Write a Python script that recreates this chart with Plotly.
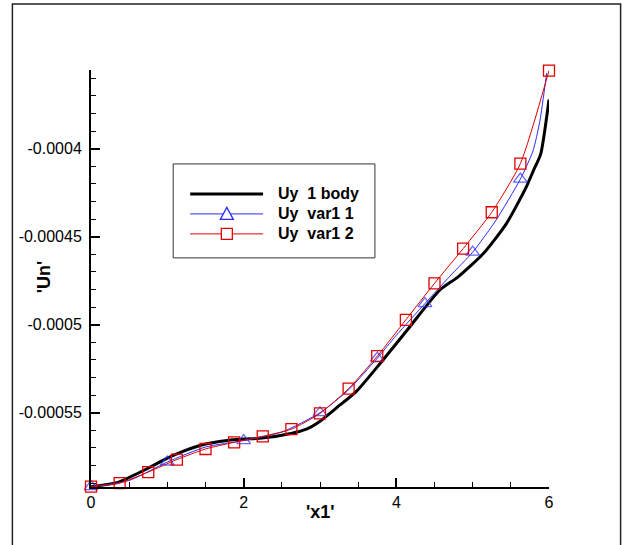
import numpy as np
import plotly.graph_objects as go

# ---- data ----
body_x = [0.0, 0.36, 0.75, 1.0, 1.23, 1.5, 1.76, 2.0, 2.24, 2.62, 2.83, 3.0, 3.22, 3.48,
          3.83, 4.18, 4.57, 4.81, 5.14, 5.44, 5.70, 5.80, 5.89, 6.0]
body_y = [-0.000592, -0.0005894, -0.0005815, -0.0005758, -0.0005715, -0.0005678, -0.0005659,
          -0.000565, -0.0005644, -0.0005618, -0.0005592, -0.0005548, -0.0005471, -0.0005377,
          -0.0005198, -0.000501, -0.0004803, -0.0004728, -0.0004596, -0.0004427, -0.000422,
          -0.000412, -0.0004032, -0.0003721]

var11_x = [0.0, 0.5, 1.0, 1.5, 2.0, 2.5, 3.0, 3.375, 3.75, 4.0, 4.375, 4.7, 5.0, 5.3,
           5.625, 5.79, 5.88, 5.97]
var11_y = [-0.000592, -0.0005885, -0.000578, -0.0005695, -0.0005658, -0.000561, -0.00055,
           -0.000537, -0.000519, -0.000506, -0.000488, -0.0004725, -0.0004588, -0.000441,
           -0.0004173, -0.0004013, -0.0003844, -0.000357]
var11_marked = [0.0, 1.0, 2.0, 3.0, 3.75, 4.375, 5.0, 5.625]

var12_x = [0.0, 0.375, 0.75, 1.125, 1.5, 1.875, 2.25, 2.625, 3.0, 3.375, 3.75, 4.125,
           4.5, 4.875, 5.25, 5.625, 6.0]
var12_y = [-0.000592, -0.00059, -0.0005837, -0.0005766, -0.0005706, -0.0005668, -0.0005634,
           -0.0005593, -0.0005504, -0.0005363, -0.0005179, -0.0004972, -0.0004765,
           -0.0004568, -0.0004361, -0.0004085, -0.0003556]

series_names = ["Uy\u00a0\u00a01 body", "Uy\u00a0\u00a0var1 1", "Uy\u00a0\u00a0var1 2"]
x_ticks = [0, 2, 4, 6]
y_ticks = [-0.0004, -0.00045, -0.0005, -0.00055]
y_tick_labels = ["-0.0004", "-0.00045", "-0.0005", "-0.00055"]
x_title = "'x1'"
y_title = "'Un'"

# ---- layout geometry ----
W, H = 624, 545
L, R, T, B = 90.7, 549.3, 70.0, 487.3
PW, PH = R - L, B - T


def px(x):
    return (x - L) / PW


def py(y):
    return (B - y) / PH


BLUE = "#2a2aff"
RED = "#e00000"

fig = go.Figure()

fig.add_trace(go.Scatter(x=body_x, y=body_y, mode="lines", line=dict(color="black", width=3, shape="spline", smoothing=0.6),
                         showlegend=False, hoverinfo="skip", cliponaxis=False))

msize = [12 if xv in var11_marked else 0 for xv in var11_x]
fig.add_trace(go.Scatter(x=var11_x, y=var11_y, mode="lines+markers",
                         line=dict(color=BLUE, width=1, shape="spline", smoothing=0.6),
                         marker=dict(symbol="triangle-up-open", size=msize, color=BLUE, line=dict(width=1.3, color=BLUE)),
                         showlegend=False, hoverinfo="skip", cliponaxis=False))

fig.add_trace(go.Scatter(x=var12_x, y=var12_y, mode="lines+markers",
                         line=dict(color=RED, width=1, shape="spline", smoothing=0.6),
                         marker=dict(symbol="square-open", size=11, color=RED, line=dict(width=1.3, color=RED)),
                         showlegend=False, hoverinfo="skip", cliponaxis=False))

shapes = []
# outer frame
shapes.append(dict(type="rect", xref="paper", yref="paper", x0=px(12), x1=px(621), y0=py(560), y1=py(4),
                   line=dict(color="#222", width=1.5), layer="below"))
# legend box
shapes.append(dict(type="rect", xref="paper", yref="paper", x0=px(173), x1=px(375), y0=py(258), y1=py(164),
                   line=dict(color="#333", width=1), fillcolor="white"))
rows = [194, 214, 234]
colors = ["black", BLUE, RED]
widths = [3, 1, 1]
for r, c, w in zip(rows, colors, widths):
    shapes.append(dict(type="line", xref="paper", yref="paper", x0=px(190), x1=px(263), y0=py(r), y1=py(r),
                       line=dict(color=c, width=w)))
# legend triangle
cx = 226.7
tri = "M {} {} L {} {} L {} {} Z".format(px(cx - 6.5), py(219.5), px(cx + 6.5), py(219.5), px(cx), py(207.5))
shapes.append(dict(type="path", xref="paper", yref="paper", path=tri, line=dict(color=BLUE, width=1.3), fillcolor="white"))
shapes.append(dict(type="rect", xref="paper", yref="paper", x0=px(cx - 5.5), x1=px(cx + 5.5), y0=py(239.5), y1=py(228.5),
                   line=dict(color=RED, width=1.3), fillcolor="white"))

annotations = []
for r, name in zip(rows, series_names):
    annotations.append(dict(xref="paper", yref="paper", x=px(276), y=py(r), text="<b>" + name + "</b>",
                            xanchor="left", yanchor="middle", showarrow=False,
                            font=dict(family="Liberation Sans, Arial", size=16, color="black")))
annotations.append(dict(xref="paper", yref="paper", x=px(320), y=py(512), text="<b>" + x_title + "</b>",
                        xanchor="center", yanchor="middle", showarrow=False,
                        font=dict(family="Liberation Sans, Arial", size=18, color="black")))
annotations.append(dict(xref="paper", yref="paper", x=px(43), y=py(277), text="<b>" + y_title + "</b>",
                        xanchor="center", yanchor="middle", showarrow=False, textangle=-90,
                        font=dict(family="Liberation Sans, Arial", size=18, color="black")))

y_lo = -0.0005922
y_hi = -0.0003553

fig.update_layout(
    width=W, height=H,
    margin=dict(l=L, r=W - R, t=T, b=H - B, pad=0),
    paper_bgcolor="white", plot_bgcolor="white",
    shapes=shapes, annotations=annotations,
    font=dict(family="Liberation Sans, Arial", size=16, color="black"),
    xaxis=dict(range=[-0.0001, 6.0001], tickvals=x_ticks, ticktext=[str(v) for v in x_ticks],
               ticks="inside", ticklen=9, tickwidth=2, tickcolor="black",
               showline=True, linewidth=2, linecolor="black", showgrid=False, zeroline=False,
               minor=dict(tickvals=list(np.arange(0, 6.01, 0.5)), ticks="inside", ticklen=5, tickwidth=1, tickcolor="black"),
               tickfont=dict(size=16)),
    yaxis=dict(range=[y_lo, y_hi], tickvals=y_ticks, ticktext=y_tick_labels,
               ticks="inside", ticklen=9, tickwidth=2, tickcolor="black",
               showline=True, linewidth=2, linecolor="black", showgrid=False, zeroline=False,
               minor=dict(tickvals=list(np.round(np.arange(-0.00059, -0.000355, 0.00001), 6)), ticks="inside",
                          ticklen=5, tickwidth=1, tickcolor="black"),
               tickfont=dict(size=16), ticklabelstandoff=4),
)

fig.write_html("out.html")
